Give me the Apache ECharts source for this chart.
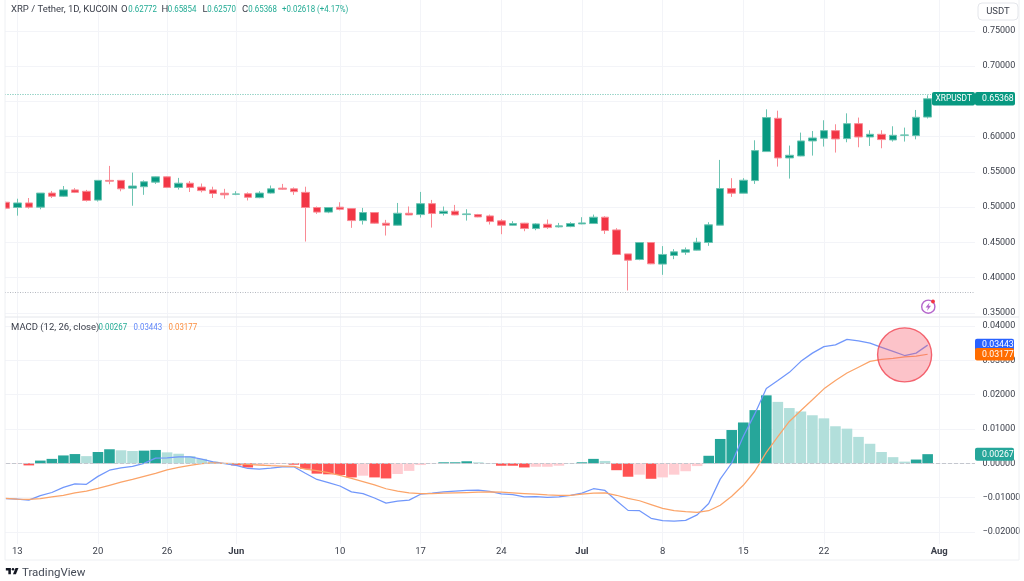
<!DOCTYPE html>
<html><head><meta charset="utf-8">
<style>html,body{margin:0;padding:0;background:#fff}#c{width:1024px;height:581px}</style>
<script src="https://cdn.jsdelivr.net/npm/echarts@6/dist/echarts.min.js"></script>
</head><body><div id="c"></div>
<script>
const categories = ['May 12','May 13','May 14','May 15','May 16','May 17','May 18','May 19','May 20','May 21','May 22','May 23','May 24','May 25','May 26','May 27','May 28','May 29','May 30','May 31',
'Jun 1','Jun 2','Jun 3','Jun 4','Jun 5','Jun 6','Jun 7','Jun 8','Jun 9','Jun 10','Jun 11','Jun 12','Jun 13','Jun 14','Jun 15','Jun 16','Jun 17','Jun 18','Jun 19','Jun 20','Jun 21','Jun 22','Jun 23','Jun 24','Jun 25','Jun 26','Jun 27','Jun 28','Jun 29','Jun 30',
'Jul 1','Jul 2','Jul 3','Jul 4','Jul 5','Jul 6','Jul 7','Jul 8','Jul 9','Jul 10','Jul 11','Jul 12','Jul 13','Jul 14','Jul 15','Jul 16','Jul 17','Jul 18','Jul 19','Jul 20','Jul 21','Jul 22','Jul 23','Jul 24','Jul 25','Jul 26','Jul 27','Jul 28','Jul 29','Jul 30','Jul 31',
'Aug 1','Aug 2','Aug 3','Aug 4'];
const tickLabels = {'May 13':'13','May 20':'20','May 26':'26','Jun 1':'Jun','Jun 10':'10','Jun 17':'17','Jun 24':'24','Jul 1':'Jul','Jul 8':'8','Jul 15':'15','Jul 22':'22','Aug 1':'Aug'};
const monthTicks = ['Jun','Jul','Aug'];
const priceTicks = {min:0.35,max:0.75,interval:0.05};
const macdTicks = {min:-0.02,max:0.04,interval:0.01};
// open, close, low, high
const ohlc = [
[.507,.4985,.497,.508],[.4995,.506,.488,.512],[.506,.500,.498,.513],[.500,.520,.497,.520],[.520,.5155,.513,.523],
[.5155,.5245,.5145,.530],[.5245,.521,.520,.527],[.5225,.5095,.508,.5245],[.510,.538,.508,.5385],[.538,.5368,.5325,.5585],
[.538,.526,.5225,.5385],[.527,.530,.502,.549],[.529,.536,.5175,.538],[.5355,.543,.533,.5435],[.543,.528,.527,.5435],
[.528,.534,.525,.5415],[.534,.528,.5215,.537],[.5285,.5235,.521,.5335],[.5245,.5195,.513,.529],[.5198,.5175,.512,.526],
[.5183,.5188,.517,.5226],[.519,.514,.5095,.521],[.5135,.520,.5127,.5226],[.520,.526,.5193,.5307],[.527,.5255,.5245,.533],
[.526,.522,.5175,.528],[.521,.4995,.4513,.529],[.4995,.493,.4905,.501],[.493,.4995,.4915,.4995],[.5,.497,.4955,.507],
[.498,.481,.4707,.498],[.481,.4924,.4754,.499],[.4924,.4773,.4765,.4925],[.4773,.4744,.4598,.482],[.4744,.4914,.474,.506],
[.4914,.489,.4886,.501],[.4895,.505,.4853,.5216],[.505,.491,.4711,.5103],[.491,.4943,.4881,.5009],[.4943,.489,.4886,.5032],
[.4895,.4905,.481,.4971],[.4895,.4862,.4858,.4905],[.4876,.4796,.4754,.4895],[.4806,.4744,.4617,.483],[.4744,.4768,.474,.4801],
[.4773,.4697,.4659,.4778],[.4697,.4763,.4673,.4773],[.4758,.4711,.4692,.4825],[.4721,.4735,.4711,.4777],[.4725,.4768,.4716,.4787],
[.4763,.4777,.4758,.4858],[.4768,.4858,.4763,.4895],[.4858,.4669,.4621,.4872],[.4678,.4329,.4324,.4702],[.4338,.4248,.3819,.4338],
[.4258,.4499,.4248,.4503],[.4499,.4197,.4192,.4503],[.4193,.433,.4041,.4448],[.4315,.4367,.4263,.4405],[.4362,.4396,.4325,.4429],
[.4391,.4504,.4386,.4566],[.4499,.475,.4452,.4787],[.4745,.5264,.4745,.567],[.5264,.5198,.5146,.5411],[.5198,.5382,.5198,.5411],
[.5377,.5802,.533,.5948],[.5788,.627,.5788,.6387],[.626,.5698,.5575,.6368],[.5698,.5736,.5405,.5873],[.5726,.5939,.5722,.6057],
[.5939,.5981,.5731,.608],[.5977,.6085,.5859,.6232],[.6085,.5967,.5774,.6175],[.5972,.6184,.592,.633],[.6184,.5995,.5849,.627],
[.5995,.6033,.5868,.609],[.6033,.5958,.5835,.609],[.5953,.6019,.593,.6147],[.6019,.6024,.593,.6128],[.6014,.6274,.5962,.6378],
[.62772,.65368,.6257,.65854]];
const hist = [-.0001,-.0001,-.0006,.0008,.0013,.0023,.0027,.0021,.0033,.0041,.0038,.0036,.0037,.0039,.0032,.0028,.0021,.0013,.0005,-.0001,
-.0006,-.0012,-.0005,-.0003,-.0002,-.0004,-.0016,-.003,-.0032,-.0034,-.0041,-.0036,-.0041,-.0044,-.0031,-.0022,-.0005,-.0001,.0003,.0003,
.0006,.0003,.0001,-.0007,-.0007,-.0012,-.0010,-.0010,-.0007,.0001,.0003,.0013,.0007,-.0020,-.0039,-.0033,-.0045,-.0041,-.0033,-.0023,
-.0008,.0022,.0071,.0097,.0119,.0155,.0198,.0179,.0161,.0151,.014,.0131,.0108,.0101,.0077,.0057,.0033,.0018,.0005,.0011,.00267];
const histSolid = [0,0,1,1,1,1,1,0,1,1,0,0,1,1,0,0,0,0,0,1,1,1,0,0,0,1,1,1,1,1,1,0,1,1,0,0,0,0,1,1,1,0,0,1,1,1,0,0,0,0,1,1,0,1,1,0,1,0,0,0,0,1,1,1,1,1,1,0,0,0,0,0,0,0,0,0,0,0,0,1,1];
const macd = [-.0103,-.0104,-.0107,-.0094,-.0085,-.007,-.006,-.0061,-.0038,-.002,-.0013,-.0009,0,.0015,.0016,.0019,.0019,.0012,.0004,-.0001,
-.0006,-.0015,-.0017,-.0014,-.001,-.001,-.0029,-.0047,-.0056,-.0066,-.0083,-.0088,-.0101,-.0116,-.011,-.0107,-.009,-.0087,-.0083,-.0081,
-.0079,-.0078,-.0082,-.0089,-.0091,-.0098,-.0097,-.0099,-.0098,-.0093,-.0087,-.0074,-.0079,-.0109,-.0137,-.0138,-.016,-.0167,-.0168,-.0166,
-.015,-.0117,-.0046,.0001,.0078,.0144,.0218,.0241,.0265,.0297,.0321,.034,.0345,.0361,.0357,.035,.0338,.0326,.0314,.0321,.03443];
const signal = [-.0102,-.0104,-.0105,-.0103,-.0098,-.0093,-.0086,-.0081,-.0073,-.0064,-.0055,-.0047,-.0038,-.0029,-.0019,-.0012,-.0006,-.0001,.0001,0,
-.0001,-.0003,-.0005,-.0007,-.0008,-.0009,-.0017,-.0021,-.0027,-.0035,-.0044,-.0053,-.0063,-.0074,-.0081,-.0086,-.0088,-.0088,-.0087,-.0086,
-.0085,-.0084,-.0083,-.0084,-.0086,-.0088,-.009,-.0092,-.0093,-.0093,-.009,-.0087,-.0086,-.0093,-.0102,-.0109,-.012,-.0131,-.0138,-.0141,
-.0143,-.0138,-.0122,-.0096,-.0064,-.0023,.0032,.0078,.0122,.0154,.0185,.0217,.0241,.0263,.028,.0297,.0303,.0306,.031,.0312,.03177];
const priceLevels = {highA:.659,highB:.6562,low:.3821};
const circleMark = {category:'Jul 29',value:.0316};
const lastPrice = .65368;

const UP='#089981',DOWN='#F23645',UPW='#6cc4b2',DOWNW='#f98a94';
const FONT='Roboto, Arial, sans-serif';
const GRID='#f3f4f8';
const L=-1,W=980.5;
const chart=echarts.init(document.getElementById('c'),null,{renderer:'canvas'});
const showTick=(i,v)=>v in tickLabels;
const hidden=(g)=>({type:'category',gridIndex:g,data:categories,show:false,min:0,max:categories.length-1});
const yLab={show:true,color:'#3a3e49',fontSize:9,fontFamily:FONT,margin:3,align:'left'};
chart.setOption({
 animation:false,backgroundColor:'#fff',
 grid:[{left:L,width:W,top:0,height:544},{left:L,width:W,top:30.8,height:282.2},{left:L,width:W,top:326,height:206}],
 xAxis:[
  {type:'category',gridIndex:0,data:categories,axisLine:{show:false},axisTick:{show:false,alignWithLabel:true,interval:showTick},
   splitLine:{show:true,alignWithLabel:true,interval:showTick,lineStyle:{color:GRID,width:1}},
   axisLabel:{show:true,interval:showTick,hideOverlap:false,margin:3,fontSize:9.5,fontFamily:FONT,color:'#3a3e49',
    formatter:(v)=>{const t=tickLabels[v]||'';return monthTicks.includes(t)?'{b|'+t+'}':t;},rich:{b:{fontWeight:'bold',fontSize:9.5,fontFamily:FONT,color:'#3a3e49'}}}},
  hidden(1),hidden(2)],
 yAxis:[
  {type:'value',gridIndex:0,min:0,max:1,show:false,splitLine:{show:false}},
  {type:'value',gridIndex:1,position:'right',min:priceTicks.min,max:priceTicks.max,interval:priceTicks.interval,scale:true,
   axisLine:{show:false},axisTick:{show:false},splitLine:{lineStyle:{color:GRID,width:1}},axisLabel:{...yLab,formatter:v=>v.toFixed(5)}},
  {type:'value',gridIndex:2,position:'right',min:macdTicks.min,max:macdTicks.max,interval:macdTicks.interval,
   axisLine:{show:false},axisTick:{show:false},splitLine:{lineStyle:{color:GRID,width:1}},axisLabel:{...yLab,formatter:v=>v.toFixed(5).replace('-','\u2212')}}],
 series:[
  {type:'candlestick',xAxisIndex:1,yAxisIndex:1,data:ohlc,barWidth:8,clip:false,z:3,
   itemStyle:{color:UP,color0:DOWN,borderColor:UPW,borderColor0:DOWNW,borderWidth:1},
   markLine:{silent:true,symbol:'none',animation:false,label:{show:false},data:[
     {yAxis:priceLevels.highA,lineStyle:{color:'#8fd0c3',type:[1,1.5],width:1}},
     {yAxis:priceLevels.highB,lineStyle:{color:'#8fd0c3',type:[1,1.5],width:1}},
     {yAxis:priceLevels.low,lineStyle:{color:'#b5b9c0',type:[1,1.5],width:1}}]}},
  {type:'bar',xAxisIndex:2,yAxisIndex:2,barWidth:10.6,z:2,
   data:hist.map((v,i)=>({value:v,itemStyle:{color:v>=0?(histSolid[i]?'#26A69A':'#B2DFDB'):(histSolid[i]?'#FF5252':'#FFCDD2')}})),
   markLine:{silent:true,symbol:'none',animation:false,label:{show:false},data:[{yAxis:0,lineStyle:{color:'#c4c7ce',type:'dashed',width:1}}]}},
  {type:'line',xAxisIndex:2,yAxisIndex:2,data:macd,showSymbol:false,smooth:false,z:4,lineStyle:{color:'#7197fb',width:1.25}},
  {type:'line',xAxisIndex:2,yAxisIndex:2,data:signal,showSymbol:false,smooth:false,z:4,lineStyle:{color:'#fba469',width:1.25}},
  {type:'scatter',xAxisIndex:2,yAxisIndex:2,z:5,symbolSize:54,data:[[categories.indexOf(circleMark.category),circleMark.value]],
   itemStyle:{color:'rgba(247,90,105,0.45)',borderColor:'#f0414f',borderWidth:1.4}}
 ]
});
const px=(g,v)=>chart.convertToPixel({gridIndex:g},[0,v])[1];
const txt=(x,y,t,c,o={})=>({type:'text',x,y,z:30,silent:true,scaleX:o.sx||1,style:{text:t,fill:c,font:(o.w||'normal')+' '+(o.s||9.5)+'px '+FONT,textVerticalAlign:'middle',textAlign:o.a||'left'}});
const num=(x,y,t,c)=>txt(x,y,t,c,{sx:.83});
const tag=(x,w,yc,h,fill,t,tx,sx)=>[{type:'rect',z:25,silent:true,shape:{x,y:yc-h/2,width:w,height:h,r:2},style:{fill}},txt(tx,yc,t,'#fff',{sx:sx||.92})];
const yLast=px(1,lastPrice);
const C1='#22ab94';
const LOGO={x:5,y:565.5,scale:.42};
chart.setOption({graphic:{elements:[
 {type:'rect',z:20,silent:true,shape:{x:-1,y:-1,width:6,height:583},style:{fill:'#fff'}},
 {type:'rect',z:20,silent:true,shape:{x:975,y:0,width:6,height:317},style:{fill:'#fff'}},
 {type:'rect',z:20,silent:true,shape:{x:975,y:318,width:6,height:226},style:{fill:'#fff'}},
 {type:'rect',z:21,silent:true,shape:{x:5,y:-2,width:1014,height:562},style:{fill:'none',stroke:'#eef0f3',lineWidth:1}},
 {type:'line',z:21,silent:true,shape:{x1:5,y1:317,x2:1019,y2:317},style:{stroke:'#e4e6eb',lineWidth:1}},
 txt(11,10,'XRP / Tether, 1D, KUCOIN','#3a3e49'),
 txt(121,10,'O','#3a3e49'),num(128.3,10,'0.62772',C1),
 txt(161.5,10,'H','#3a3e49'),num(167.7,10,'0.65854',C1),
 txt(202.5,10,'L','#3a3e49'),num(207.3,10,'0.62570',C1),
 txt(242,10,'C','#3a3e49'),num(248.3,10,'0.65368',C1),
 num(282,10,'+0.02618 (+4.17%)',C1),
 txt(11,328,'MACD (12, 26, close)','#3a3e49'),
 num(98.5,328,'0.00267',C1),num(133.5,328,'0.03443','#5f86f8'),num(168.5,328,'0.03177','#fb8c3c'),
 {type:'rect',z:25,silent:true,shape:{x:978,y:3,width:40,height:17,r:4},style:{fill:'#fff',stroke:'#e4e6eb',lineWidth:1}},
 txt(998,11.5,'USDT','#3a3e49',{a:'center'}),
 ...tag(932,43,yLast,13.5,UP,'XRPUSDT',935.5,.88),
 ...tag(975,40,yLast,13.5,UP,'0.65368',982),
 ...tag(975,39,px(2,macd[80]),12.5,'#2962FF','0.03443',982),
 ...tag(975,39,px(2,signal[80]),12.5,'#FF6D00','0.03177',982),
 ...tag(975,39,px(2,hist[80]),13,'#26A69A','0.00267',982),
 {type:'circle',z:25,silent:true,shape:{cx:928.3,cy:306.7,r:6.6},style:{fill:'#fff',stroke:'#b566cc',lineWidth:1.4}},
 {type:'polygon',z:26,silent:true,shape:{points:[[929.6,302.6],[925.6,307.6],[928,307.6],[927,311],[931,305.8],[928.6,305.8]]},style:{fill:'#b566cc'}},
 {type:'circle',z:27,silent:true,shape:{cx:933,cy:301.5,r:1.9},style:{fill:'#f23645'}},
 {type:'polygon',z:25,silent:true,x:LOGO.x,y:LOGO.y,scaleX:LOGO.scale,scaleY:LOGO.scale,shape:{points:[[2,6],[14,6],[14,21],[8,21],[8,12],[2,12]]},style:{fill:'#131722'}},
 {type:'polygon',z:25,silent:true,x:LOGO.x,y:LOGO.y,scaleX:LOGO.scale,scaleY:LOGO.scale,shape:{points:[[26,21],[19,21],[25,6],[32,6]]},style:{fill:'#131722'}},
 {type:'circle',z:25,silent:true,x:LOGO.x,y:LOGO.y,scaleX:LOGO.scale,scaleY:LOGO.scale,shape:{cx:19,cy:9,r:3},style:{fill:'#131722'}},
 txt(22,573.5,'TradingView','#444a56',{s:11.5})
]}});
</script></body></html>
